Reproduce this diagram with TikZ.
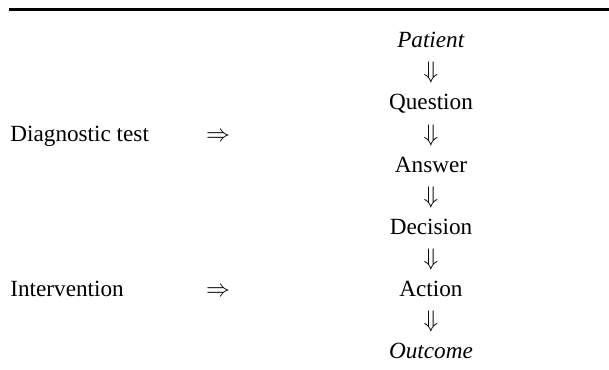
\documentclass[tikz,border=0pt]{standalone}
\usepackage{fontspec}
\setmainfont{Liberation Serif}
\begin{document}
\begin{tikzpicture}[x=0.5pt,y=-0.5pt,
  txt/.style={anchor=base, inner sep=0pt, font=\fontsize{11.6}{14}\selectfont},
  lefttxt/.style={txt, anchor=base west}]
\useasboundingbox (0,0) rectangle (609,369);
\fill (9,8) rectangle (609,11.3);
% central chain
\node[txt] (patient)  at (431,48)  {\textit{Patient}};
\node[txt] (d1)       at (431,79)  {$\Downarrow$};
\node[txt] (question) at (431,110) {Question};
\node[txt] (d2)       at (431,141) {$\Downarrow$};
\node[txt] (answer)   at (431,172) {Answer};
\node[txt] (d3)       at (431,203) {$\Downarrow$};
\node[txt] (decision) at (431,234) {Decision};
\node[txt] (d4)       at (431,265) {$\Downarrow$};
\node[txt] (action)   at (431,296) {Action};
\node[txt] (d5)       at (431,327) {$\Downarrow$};
\node[txt] (outcome)  at (431,358) {\textit{Outcome}};
% left column
\node[lefttxt] (diag)   at (10,141) {Diagnostic test};
\node[txt]     (r1)     at (218,141) {$\Rightarrow$};
\node[lefttxt] (interv) at (10,296) {Intervention};
\node[txt]     (r2)     at (218,296) {$\Rightarrow$};
\end{tikzpicture}
\end{document}
